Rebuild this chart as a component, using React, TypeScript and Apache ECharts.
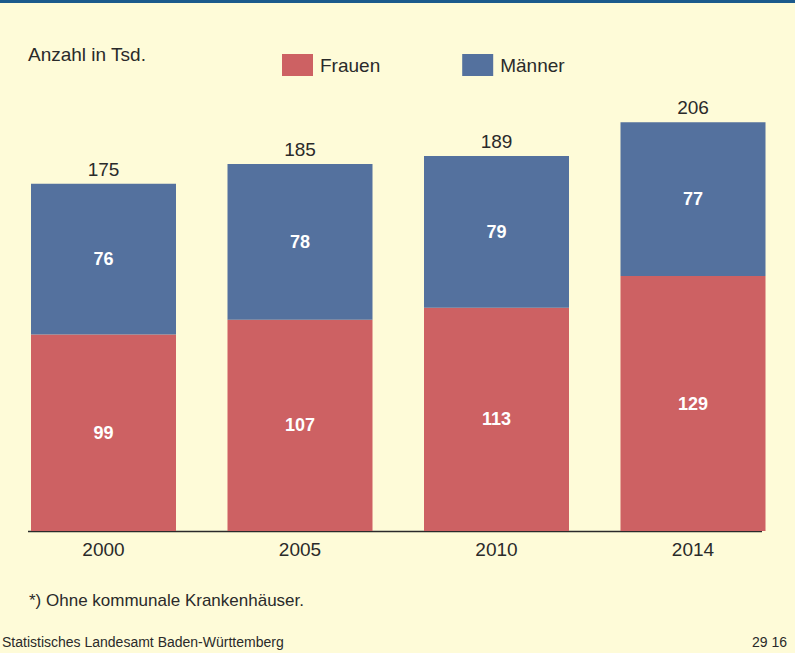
import React, { useEffect, useRef } from "react";
import * as echarts from "echarts";

const categories = ["2000", "2005", "2010", "2014"];
// bar heights as drawn (in thousand)
const frauen = [99, 106.5, 112.5, 128.5];
const maenner = [76, 78.5, 76.5, 77.5];
// printed labels
const frauenLabels = ["99", "107", "113", "129"];
const maennerLabels = ["76", "78", "79", "77"];
const totals = ["175", "185", "189", "206"];

const FONT = "Liberation Sans, Arial, sans-serif";

export default function App() {
  const ref = useRef<HTMLDivElement>(null);
  useEffect(() => {
    if (!ref.current) return;
    const chart = echarts.init(ref.current, null, { renderer: "svg" });
    chart.setOption({
      animation: false,
      backgroundColor: "#fefbd8",
      textStyle: { fontFamily: FONT },
      legend: {
        left: 282,
        top: 54,
        padding: 0,
        itemWidth: 31,
        itemHeight: 22,
        itemGap: 82,
        icon: "rect",
        textStyle: { fontSize: 19, color: "#2a2a2a", fontFamily: FONT, padding: [0, 0, 0, 2] },
        data: ["Frauen", "Männer"],
      },
      grid: { left: 103.5, right: 102, top: 94.5, bottom: 122 },
      xAxis: {
        type: "category",
        data: categories,
        boundaryGap: false,
        axisLine: { show: false },
        axisTick: { show: false },
        axisLabel: { fontSize: 19, color: "#2a2a2a", margin: 9, fontFamily: FONT },
      },
      yAxis: {
        type: "value",
        min: 0,
        max: 220,
        show: false,
        splitLine: { show: false },
      },
      series: [
        {
          name: "Frauen",
          type: "bar",
          stack: "a",
          barWidth: 145,
          clip: false,
          data: frauen,
          itemStyle: { color: "#cd6163" },
          label: {
            show: true,
            position: "inside",
            color: "#ffffff",
            fontWeight: "bold",
            fontSize: 18,
            fontFamily: FONT,
            formatter: (p: any) => frauenLabels[p.dataIndex],
          },
        },
        {
          name: "Männer",
          type: "bar",
          stack: "a",
          barWidth: 145,
          clip: false,
          data: maenner,
          itemStyle: { color: "#54719e" },
          label: {
            show: true,
            position: "inside",
            color: "#ffffff",
            fontWeight: "bold",
            fontSize: 18,
            fontFamily: FONT,
            formatter: (p: any) => maennerLabels[p.dataIndex],
          },
        },
        {
          name: "Summe",
          type: "bar",
          stack: "a",
          barWidth: 145,
          clip: false,
          data: [0, 0, 0, 0],
          itemStyle: { color: "transparent" },
          silent: true,
          label: {
            show: true,
            position: "top",
            distance: 5,
            color: "#2a2a2a",
            fontSize: 19,
            fontFamily: FONT,
            formatter: (p: any) => totals[p.dataIndex],
          },
        },
      ],
      graphic: [
        { type: "rect", left: 0, top: 0, shape: { width: 795, height: 3 }, style: { fill: "#1c5a8c" } },
        {
          type: "line",
          shape: { x1: 28, y1: 531.5, x2: 762, y2: 531.5 },
          style: { stroke: "#2a2a2a", lineWidth: 1.5 },
        },
        {
          type: "text",
          left: 28,
          top: 45,
          style: { text: "Anzahl in Tsd.", fontSize: 19, fill: "#2a2a2a", fontFamily: FONT },
        },
        {
          type: "text",
          left: 29,
          top: 592,
          style: { text: "*) Ohne kommunale Krankenhäuser.", fontSize: 17, fill: "#2a2a2a", fontFamily: FONT },
        },
        {
          type: "text",
          left: 2,
          top: 635,
          style: { text: "Statistisches Landesamt Baden-Württemberg", fontSize: 14, fill: "#2a2a2a", fontFamily: FONT },
        },
        {
          type: "text",
          right: 8,
          top: 635,
          style: { text: "29 16", fontSize: 14, fill: "#2a2a2a", fontFamily: FONT },
        },
      ],
    });
    return () => chart.dispose();
  }, []);
  return (
    <div
      ref={ref}
      style={{ position: "fixed", left: 0, top: 0, width: 795, height: 653 }}
    />
  );
}
